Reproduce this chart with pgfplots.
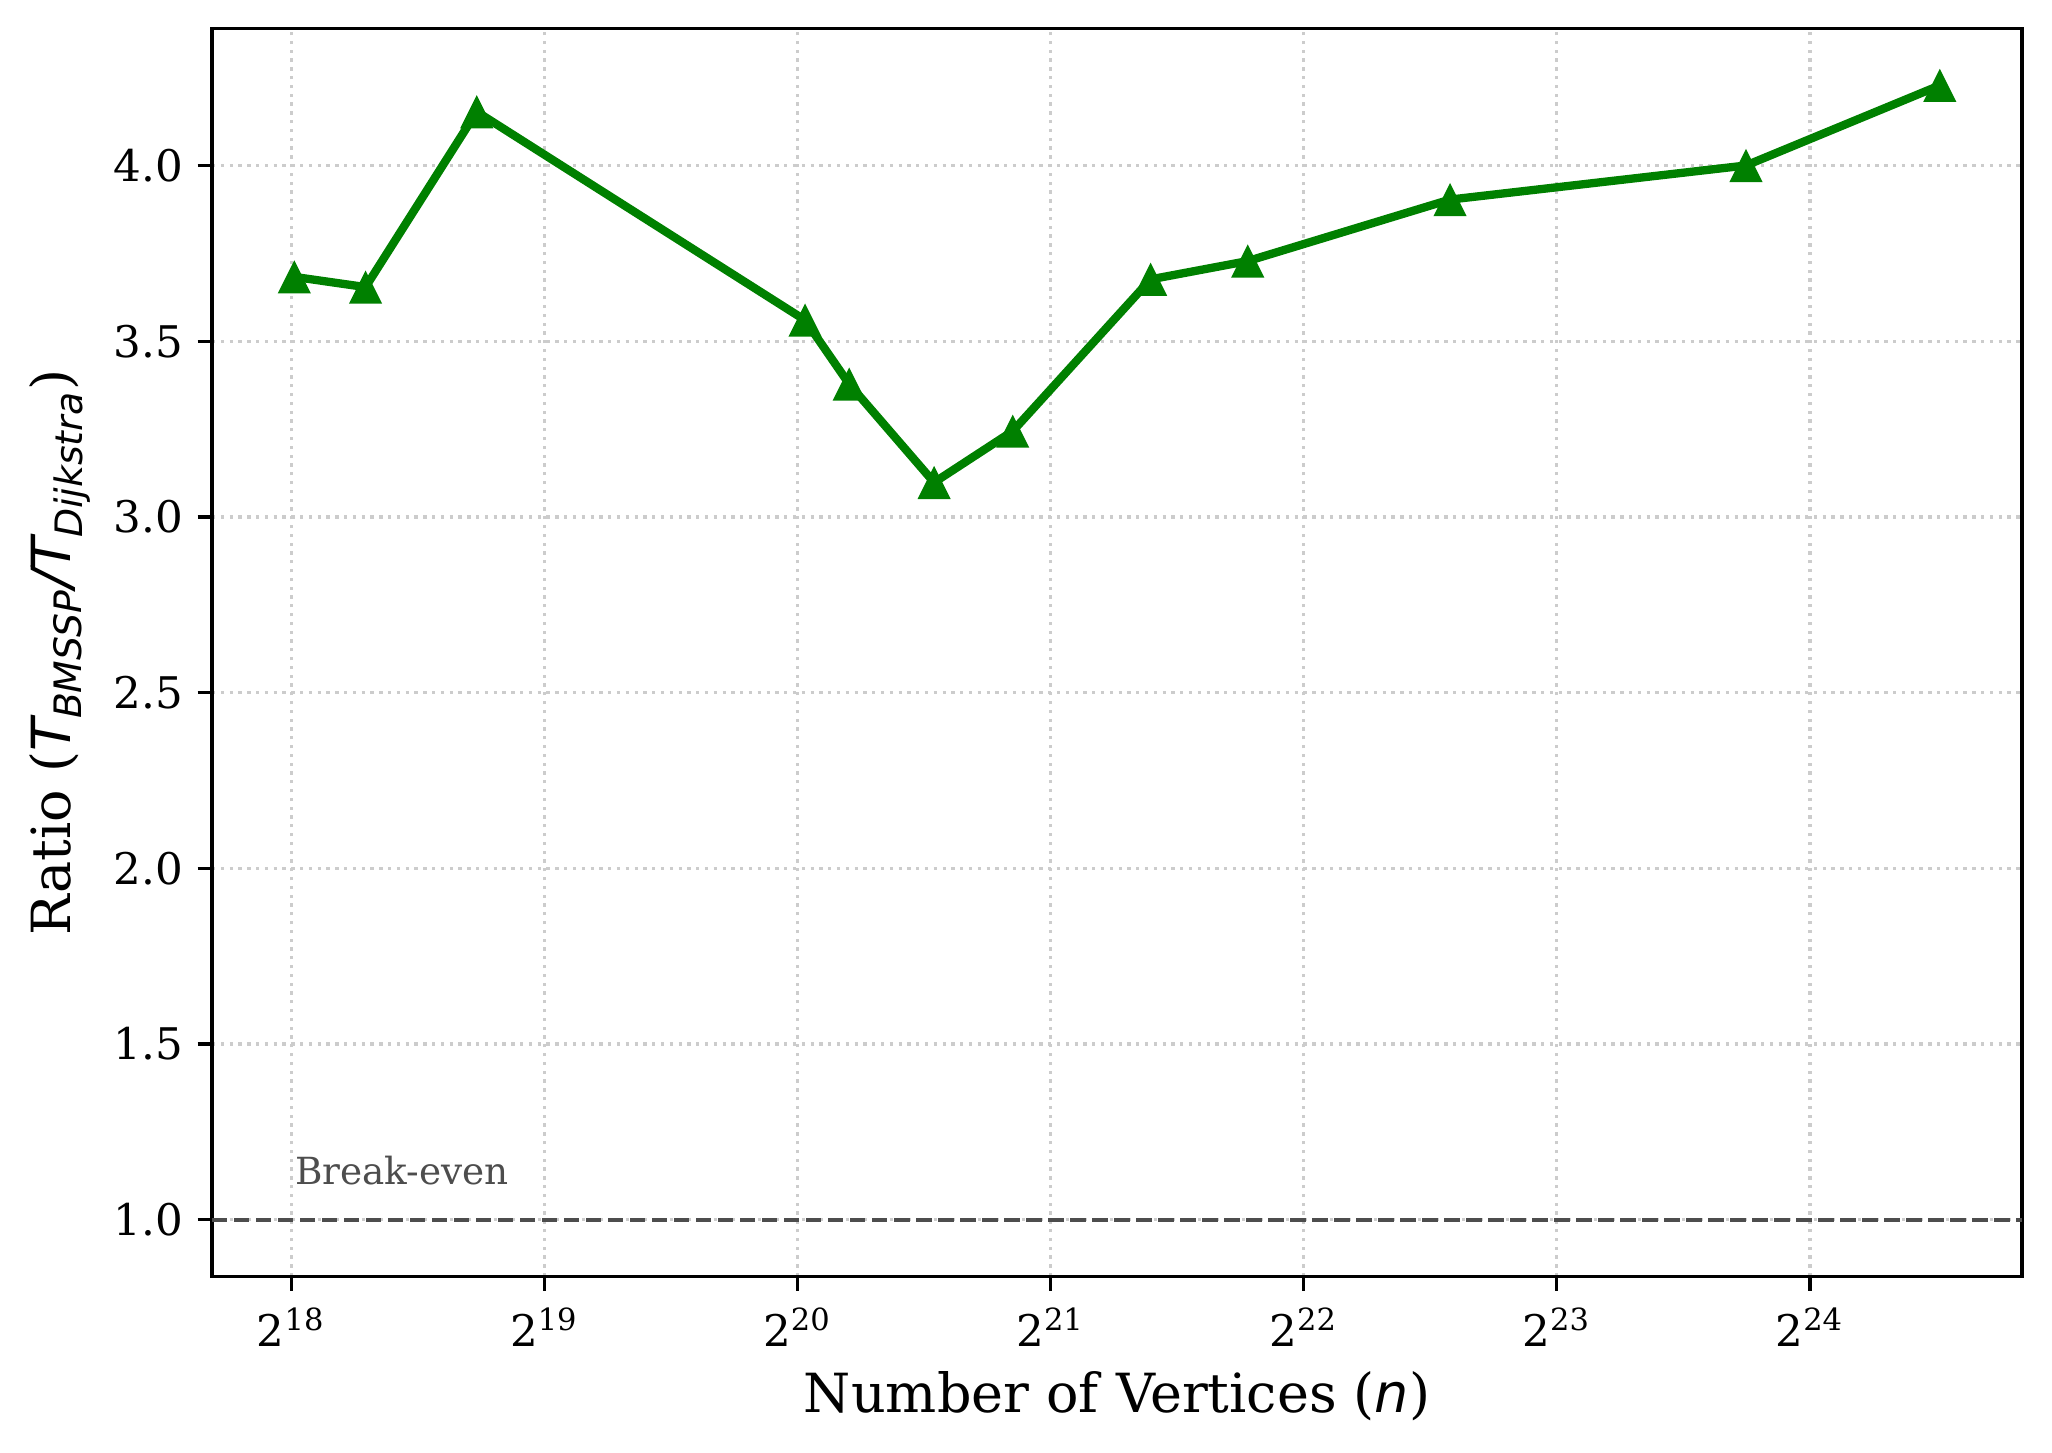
\documentclass[border=0pt]{standalone}
\usepackage{fontspec}
\setmainfont{DejaVu Serif}
\newfontfamily\dvsans{DejaVu Sans}
\usepackage{pgfplots}
\pgfplotsset{compat=1.18}
\definecolor{mplgreen}{HTML}{008000}
\definecolor{gridc}{HTML}{CCCCCC}
\definecolor{refc}{HTML}{4D4D4D}
\pgfdeclareplotmark{mtri}{%
  \pgfpathmoveto{\pgfqpoint{0pt}{\pgfplotmarksize}}%
  \pgfpathlineto{\pgfqpoint{-\pgfplotmarksize}{-\pgfplotmarksize}}%
  \pgfpathlineto{\pgfqpoint{\pgfplotmarksize}{-\pgfplotmarksize}}%
  \pgfpathclose\pgfusepathqfill}
\begin{document}
\begin{tikzpicture}
\begin{axis}[
  name=ax, at={(0,0)}, anchor=south west,
  scale only axis, width=436.0pt, height=300.5pt,
  xmode=log, log basis x=2,
  xmin=211016, xmax=29999340,
  ymin=0.8386, ymax=4.389,
  xtick={262144,524288,1048576,2097152,4194304,8388608,16777216},
  xticklabels={2\textsuperscript{18},2\textsuperscript{19},2\textsuperscript{20},2\textsuperscript{21},2\textsuperscript{22},2\textsuperscript{23},2\textsuperscript{24}},
  ytick={1,1.5,2,2.5,3,3.5,4},
  yticklabel style={/pgf/number format/.cd, fixed, fixed zerofill, precision=1, assume math mode=true},
  minor x tick num=0, minor y tick num=0,
  xtick pos=left, ytick pos=left,
  tick align=outside, major tick length=3.5pt,
  every tick/.style={black, line width=0.8pt},
  axis line style={line width=0.8pt},
  tick label style={font=\fontsize{10.5}{12}\selectfont},
  xticklabel style={yshift=-0.5pt},
  grid=major,
  major grid style={gridc, line width=0.8pt, dash pattern=on 0.8pt off 1.32pt},
  xlabel={Number of Vertices ({\dvsans\itshape n})},
  ylabel={Ratio ({\dvsans\itshape T\textsubscript{BMSSP}/T\textsubscript{Dijkstra}})},
  label style={font=\fontsize{13}{15}\selectfont},
  xlabel style={at={(axis description cs:0.5,-0.0960)}, anchor=center},
  ylabel style={at={(axis description cs:-0.0840,0.5)}, anchor=center},
]
\addplot[refc, line width=1pt, dash pattern=on 3.7pt off 1.6pt, forget plot]
  coordinates {(211016,1) (29999340,1)};
\addplot[mplgreen, line width=2pt, mark=mtri, mark size=4pt, mark options={solid, fill=mplgreen}]
  coordinates {
    (264346,3.683)
    (321270,3.654)
    (435666,4.153)
    (1070376,3.560)
    (1207945,3.378)
    (1524453,3.098)
    (1890815,3.244)
    (2758119,3.676)
    (3598623,3.728)
    (6262104,3.903)
    (14081816,4.000)
    (23947347,4.228)
  };
\node[anchor=base west, inner sep=0pt, text=refc, font=\fontsize{9}{10}\selectfont] at (axis cs:264346,1.1) {Break-even};
\end{axis}
\pgfresetboundingbox
\path[use as bounding box] ([xshift=-51.07pt,yshift=-42.4pt]ax.south west) rectangle ([xshift=7.23pt,yshift=6.94pt]ax.north east);
\end{tikzpicture}
\end{document}
